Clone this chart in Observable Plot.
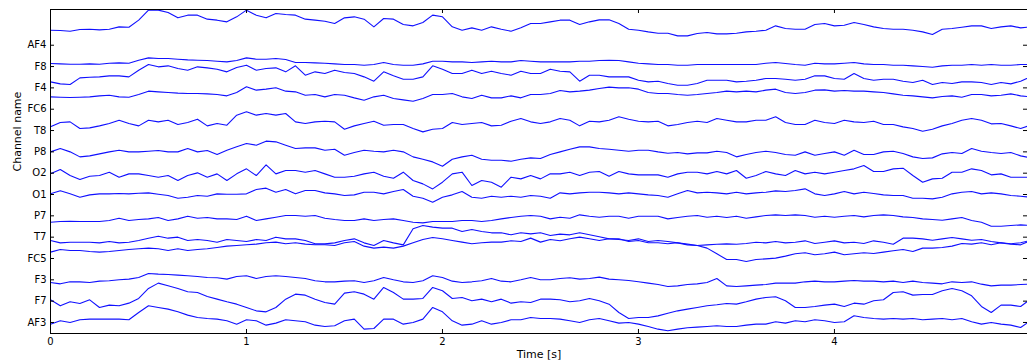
<!DOCTYPE html>
<html><head><meta charset="utf-8">
<script src="https://cdn.jsdelivr.net/npm/d3@7"></script>
<script src="https://cdn.jsdelivr.net/npm/@observablehq/plot@0.6"></script>
<style>html,body{margin:0;padding:0;background:#fff} #chart svg{display:block}</style>
</head><body><div id="chart"></div>
<script>
// Channels, bottom to top (tick labels)
const CHANNELS = ["AF3","F7","F3","FC5","T7","P7","O1","O2","P8","T8","FC6","F4","F8","AF4"];
const X_TICKS = [0, 1, 2, 3, 4];
const SAMPLE_STEP = 0.05; // seconds between readings
// Amplitudes (relative to each channel's baseline), read every 0.05 s from 0 to 5 s
const AF4 = [45,44,42,47,48,46,48,55,54,75,105,105,98,82,90,90,78,75,70,85,105,90,82,95,92,
 90,78,75,72,65,82,85,78,55,80,78,62,58,68,90,85,55,45,52,45,55,48,42,52,65,
 65,70,75,75,62,70,76,76,65,48,45,40,36,36,28,28,35,38,34,34,36,40,42,45,58,
 50,48,48,62,65,58,60,68,62,55,50,48,48,45,40,32,48,50,54,58,58,50,55,58,52,55];
const F8 = [9,8,7,7,8,7,10,11,10,19,26,24,24,22,20,19,18,16,14,18,26,22,22,24,21,
 12,12,11,10,8,6,6,4,6,12,6,4,4,8,16,16,14,14,12,14,16,14,14,18,16,
 14,14,14,14,16,16,18,19,18,14,10,8,6,6,4,4,6,6,6,6,6,6,6,10,12,
 9,6,4,10,8,8,10,12,8,6,6,4,4,2,0,-2,2,4,4,6,4,6,4,4,6,6];
const F4 = [18,12,10,30,32,33,36,36,33,53,70,63,66,58,53,63,60,56,48,61,68,53,58,60,48,
 66,38,48,43,53,46,43,33,20,48,36,26,26,33,66,56,43,43,53,43,50,43,38,50,43,
 43,56,50,48,20,38,38,33,33,33,23,18,20,13,8,8,13,23,23,23,18,20,23,28,28,
 26,23,26,36,36,28,26,43,28,23,26,26,20,16,23,10,16,13,18,18,16,10,16,12,20,33];
const FC6 = [37,36,35,36,37,40,42,37,36,44,54,52,50,48,47,47,46,44,40,50,67,57,60,64,54,
 52,42,44,37,44,42,34,27,37,42,32,28,24,32,44,44,47,37,32,42,34,34,40,34,44,
 44,47,56,52,54,57,62,66,64,64,60,50,47,47,44,42,44,47,50,54,52,54,52,57,60,
 50,47,50,57,58,54,56,54,54,52,50,46,42,40,37,34,38,40,36,44,44,40,42,46,40,37];
const T8 = [11,24,26,6,8,14,21,31,21,14,31,26,31,18,24,34,14,21,16,46,56,46,51,46,51,
 26,21,26,28,26,4,14,21,28,16,18,18,6,-4,4,6,24,18,21,24,14,16,28,36,26,
 21,26,36,31,14,28,26,31,41,34,28,26,28,14,18,24,28,24,36,31,26,26,31,31,41,
 24,18,18,31,24,21,31,26,24,28,18,18,11,6,-2,4,14,21,31,36,31,20,21,14,6,16];
const P8 = [0,10,0,-15,-12,-6,0,5,0,0,2,4,0,0,10,0,4,-8,5,15,25,20,32,30,20,
 10,12,12,5,8,-10,-2,5,2,0,5,0,-15,-22,-30,-43,-22,-15,-10,-22,-25,-25,-28,-22,-18,
 -20,-8,0,8,15,15,10,8,5,2,5,5,0,-4,-2,-6,-3,-3,2,-2,-15,-8,-2,2,-2,
 -8,-10,0,-10,-5,0,-10,5,-8,-8,0,2,-5,-15,-20,-18,-6,-2,-5,10,2,-2,-5,-2,-12,-18];
const O2 = [-2,11,-7,-19,-9,-7,3,-12,-2,-2,-7,-12,-7,-22,-7,1,-12,-2,-22,-2,13,-7,25,-2,8,
 8,3,8,-2,-12,-12,-9,-2,3,-9,-15,3,-22,-32,-47,-27,-2,3,-37,-22,-27,-42,-12,-17,-7,
 -17,-2,-2,3,-7,3,5,-9,5,-2,-5,-5,-5,-12,-2,3,3,-2,5,-2,8,-15,-7,5,-2,
 -7,8,-2,3,-2,3,8,13,23,5,5,13,15,-7,-27,-17,-15,3,3,13,8,-5,-2,-12,-12,-12];
const O1 = [2,11,2,-8,-1,2,2,3,2,4,5,1,-3,-11,-8,-3,-5,2,1,1,2,15,19,7,15,
 2,12,12,5,2,-3,-1,7,7,2,9,15,-5,-11,-23,-8,-1,9,-8,-11,-5,-8,-5,-8,-3,
 -5,-11,5,2,5,7,7,5,2,5,2,-1,-3,-8,2,12,5,7,5,2,7,2,5,7,11,
 9,12,17,2,-3,2,9,2,7,3,-1,-3,-3,-11,-11,-13,-8,2,7,9,2,5,2,-3,-5,-8];
const P7 = [-19,-17,-16,-17,-17,-17,-14,-7,-14,-11,-9,-5,-14,-9,-1,-7,-5,-9,-9,-11,-1,-14,-9,-4,1,
 1,-1,1,-7,-11,-14,-14,-9,-14,-11,-9,-14,-19,-21,-17,-17,-17,-14,-14,-17,-14,-9,-5,-1,1,
 -1,-9,-4,-7,3,-1,-4,-1,-1,-7,-1,-1,-1,-9,-5,-1,1,-4,-1,-5,-1,-7,-3,1,3,
 1,3,1,-4,-1,-4,-1,1,-3,1,3,1,-3,-5,-9,-11,-13,-9,-5,-14,-19,-31,-31,-29,-27,-29];
const T7 = [-10,-17,-15,-15,-15,-17,-13,-17,-15,-10,-3,3,-3,0,-10,-7,-10,-15,-7,-10,-13,-7,-10,0,-5,
 -5,-10,-20,-20,-17,-10,-5,-17,-25,-10,-17,-23,25,35,30,27,27,17,23,17,13,13,7,13,10,
 13,5,9,7,13,7,1,-5,-7,-10,-5,-13,-10,-13,-17,-23,-25,-23,-21,-20,-21,-19,-15,-17,-13,
 -17,-15,-11,-19,-15,-11,-17,-15,-19,-11,-15,-21,-3,-3,-5,-9,-5,-1,-5,-9,-7,-13,-17,-21,-23,-10];
const FC5 = [19,27,24,24,21,19,21,24,27,29,31,29,24,29,24,27,29,33,37,39,41,43,47,49,44,
 47,43,41,41,39,47,51,37,31,34,31,37,47,57,63,59,54,49,44,47,49,49,53,51,61,
 49,57,53,59,64,59,54,59,59,51,54,47,47,44,47,43,39,31,14,-3,-3,-9,-3,-1,1,
 7,14,17,11,14,19,11,14,17,15,19,23,27,21,31,31,33,37,45,43,47,41,47,44,47,54];
const F3 = [-8,-12,-6,-6,-8,-4,-3,0,2,7,19,17,16,14,12,10,7,6,2,10,12,4,10,12,10,
 7,4,-3,-6,-6,-4,-3,-8,-3,7,0,-6,-8,-3,12,7,-4,-8,-6,-3,4,-4,-6,0,7,
 0,0,4,6,2,4,8,2,0,-2,-6,-10,-14,-20,-18,-14,-12,-8,4,-18,-20,-18,-16,-14,-10,
 -10,-10,-6,-4,-6,-6,-4,-2,-4,-4,-6,-4,-8,-4,-8,-10,-12,-6,-8,-6,-13,-18,-16,-16,-14,-13];
const F7 = [4,-14,-2,-7,4,-19,-12,-14,-6,8,38,54,46,38,28,26,14,6,-2,-9,-19,-29,-32,-19,6,
 21,18,6,-4,-9,24,28,21,6,41,26,6,6,8,41,31,8,11,1,6,-2,6,-6,-2,-4,
 6,6,4,-2,1,8,1,-9,-34,-52,-49,-49,-44,-36,-29,-24,-19,-14,-11,-7,-9,-2,6,11,13,
 1,-19,-19,-16,-12,-9,-16,-6,-9,1,4,26,28,18,20,20,31,38,31,16,-16,-34,-12,-12,-16,6];
const AF3 = [-5,5,0,8,10,10,10,10,8,30,50,45,40,32,22,15,12,10,5,-5,8,5,-8,-2,8,
 5,2,-8,-12,-10,5,10,-20,-18,10,10,-5,0,10,45,32,5,-8,-5,5,-5,0,8,8,15,
 12,12,10,5,0,8,12,5,-2,0,-5,-12,-20,-25,-20,-16,-14,-12,-10,-12,-12,-8,-5,-5,2,
 -2,5,2,8,5,0,2,20,15,12,10,12,10,12,8,10,12,8,12,2,-5,0,-5,-8,-15,5];

const SERIES = {AF3, F7, F3, FC5, T7, P7, O1, O2, P8, T8, FC6, F4, F8, AF4};
const SPACING = 63.85;           // vertical offset between channels
const Y_DOMAIN = [-33, 937];
const X_DOMAIN = [0, 4.985];

const rows = [];
CHANNELS.forEach((ch, i) => {
  SERIES[ch].forEach((v, k) => rows.push({t: k * SAMPLE_STEP, ch, y: i * SPACING + v}));
});
const chPos = CHANNELS.map((c, i) => i * SPACING);
const yTick = (Y_DOMAIN[1] - Y_DOMAIN[0]) / 324 * 4;   // ~4px inward tick
const xTick = (X_DOMAIN[1] - X_DOMAIN[0]) / 977 * 4;

const chart = Plot.plot({
  width: 1027, height: 363,
  marginLeft: 50, marginRight: 0, marginTop: 9, marginBottom: 30,
  style: {fontFamily: "DejaVu Sans", fontSize: "10px", color: "#000", background: "#fff", overflow: "visible"},
  x: {domain: X_DOMAIN},
  y: {domain: Y_DOMAIN},
  marks: [
    Plot.line(rows, {x: "t", y: "y", z: "ch", stroke: "#1010ff", strokeWidth: 1.1, clip: true}),
    Plot.ruleX(X_TICKS, {x: d => d, y1: Y_DOMAIN[0], y2: Y_DOMAIN[0] + yTick, stroke: "#000"}),
    Plot.ruleX(X_TICKS, {x: d => d, y1: Y_DOMAIN[1] - yTick, y2: Y_DOMAIN[1], stroke: "#000"}),
    Plot.ruleY(chPos, {y: d => d, x1: X_DOMAIN[0], x2: X_DOMAIN[0] + xTick, stroke: "#000"}),
    Plot.ruleY(chPos, {y: d => d, x1: X_DOMAIN[1] - xTick, x2: X_DOMAIN[1], stroke: "#000"}),
    Plot.frame({stroke: "#000", strokeWidth: 1}),
    Plot.axisX({ticks: X_TICKS, tickSize: 0, tickPadding: 4, tickFormat: d => String(d), label: null}),
    Plot.axisY({ticks: chPos, tickSize: 0, tickPadding: 4, tickFormat: d => CHANNELS[Math.round(d / SPACING)], label: null}),
    Plot.text(["Channel name"], {text: d => d, frameAnchor: "left", dx: -33, rotate: -90, fontSize: 11}),
    Plot.text(["Time [s]"], {text: d => d, frameAnchor: "bottom", dy: 24, fontSize: 11})
  ]
});
document.getElementById("chart").appendChild(chart);
</script>
</body></html>
